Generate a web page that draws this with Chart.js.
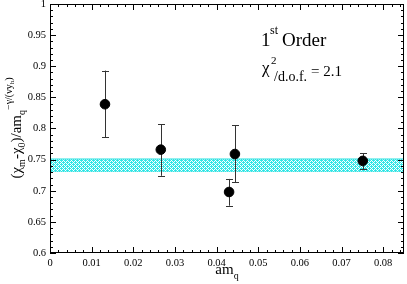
<!DOCTYPE html>
<html>
<head>
<meta charset="utf-8">
<script src="https://cdn.jsdelivr.net/npm/chart.js@4.4.1/dist/chart.umd.min.js"></script>
<style>
  html, body { margin: 0; padding: 0; background: #fff; }
  #wrap { width: 407px; height: 284px; }
</style>
</head>
<body>
<div id="wrap"><canvas id="chiPlot"></canvas></div>
<script>
// data
var amq = [0.0132, 0.0266, 0.0430, 0.0444, 0.0751];
var chiRatio = [0.839, 0.766, 0.698, 0.759, 0.748];
var errLow = [0.786, 0.724, 0.676, 0.714, 0.735];
var errHigh = [0.893, 0.807, 0.719, 0.805, 0.760];

// fit band
var bandX = [0, 0.085];
var bandTop = [0.751, 0.751];
var bandBottom = [0.731, 0.731];

var xTicks = [0, 0.01, 0.02, 0.03, 0.04, 0.05, 0.06, 0.07, 0.08];
var yTicks = [0.6, 0.65, 0.7, 0.75, 0.8, 0.85, 0.9, 0.95, 1];

var SERIF = "'Liberation Serif', 'DejaVu Serif', serif";

// little cyan hatch for the band
var tile = document.createElement('canvas');
tile.width = 4; tile.height = 4;
var tctx = tile.getContext('2d');
tctx.fillStyle = '#ffffff';
tctx.fillRect(0, 0, 4, 4);
tctx.fillStyle = '#33e6e6';
[[0,0],[2,0],[1,1],[3,1],[0,2],[2,2],[1,3],[3,3],[1,0],[3,2]].forEach(function (p) {
  tctx.fillRect(p[0], p[1], 1, 1);
});
var hatch = tctx.createPattern(tile, 'repeat');

function pts(xs, ys) {
  return xs.map(function (x, i) { return { x: x, y: ys[i] }; });
}

// draw a run of text pieces with different sizes / offsets, centred on x
function drawRich(ctx, parts, x, y) {
  var total = 0;
  parts.forEach(function (p) {
    ctx.font = p.size + 'px ' + SERIF;
    p.w = ctx.measureText(p.t).width;
    total += p.w;
  });
  var cx = x - total / 2;
  ctx.textAlign = 'left';
  ctx.textBaseline = 'alphabetic';
  parts.forEach(function (p) {
    ctx.font = p.size + 'px ' + SERIF;
    ctx.fillText(p.t, cx, y + (p.dy || 0));
    cx += p.w;
  });
}

function noPad(s) {
  s.paddingLeft = 0; s.paddingRight = 0;
  s.paddingTop = 0; s.paddingBottom = 0;
}

var framePlugin = {
  id: 'frame',
  beforeDatasetDraw: function (chart, args) {
    if (args.index !== 0) return;
    var ctx = chart.ctx, xs = chart.scales.x, ys = chart.scales.y;
    ctx.save();
    ctx.strokeStyle = '#333';
    ctx.lineWidth = 1;
    for (var i = 0; i < amq.length; i++) {
      var px = Math.round(xs.getPixelForValue(amq[i])) + 0.5;
      var top = ys.getPixelForValue(errHigh[i]);
      var bot = ys.getPixelForValue(errLow[i]);
      ctx.beginPath();
      ctx.moveTo(px, top); ctx.lineTo(px, bot);
      ctx.moveTo(px - 3.5, Math.round(top) + 0.5); ctx.lineTo(px + 3.5, Math.round(top) + 0.5);
      ctx.moveTo(px - 3.5, Math.round(bot) + 0.5); ctx.lineTo(px + 3.5, Math.round(bot) + 0.5);
      ctx.stroke();
    }
    ctx.restore();
  },
  afterDraw: function (chart) {
    var ctx = chart.ctx, a = chart.chartArea;
    var xs = chart.scales.x, ys = chart.scales.y;
    ctx.save();
    ctx.strokeStyle = '#000';
    ctx.lineWidth = 1;
    ctx.strokeRect(a.left + 0.5, a.top + 0.5, a.right - a.left - 1, a.bottom - a.top - 1);

    ctx.beginPath();
    // x ticks, bottom and top, pointing inward
    for (var k = 0; k <= 42; k++) {
      var v = k * 0.002;
      var px = Math.round(xs.getPixelForValue(v)) + 0.5;
      var len = (k % 5 === 0) ? 6 : 3;
      ctx.moveTo(px, a.bottom); ctx.lineTo(px, a.bottom - len);
      ctx.moveTo(px, a.top); ctx.lineTo(px, a.top + len);
    }
    // y ticks, left and right
    for (var j = 0; j <= 40; j++) {
      var w = 0.6 + j * 0.01;
      var py = Math.round(ys.getPixelForValue(w)) + 0.5;
      var ln = (j % 5 === 0) ? 6 : 3;
      ctx.moveTo(a.left, py); ctx.lineTo(a.left + ln, py);
      ctx.moveTo(a.right, py); ctx.lineTo(a.right - ln, py);
    }
    ctx.stroke();

    ctx.fillStyle = '#000';
    // x axis title
    drawRich(ctx, [
      { t: 'am', size: 15 },
      { t: 'q', size: 10, dy: 5 }
    ], (a.left + a.right) / 2, 274);

    // y axis title, rotated
    ctx.save();
    ctx.translate(21, 128);
    ctx.rotate(-Math.PI / 2);
    drawRich(ctx, [
      { t: '(\u03c7', size: 15 },
      { t: 'm', size: 10, dy: 4 },
      { t: '-\u03c7', size: 15 },
      { t: '0', size: 10, dy: 4 },
      { t: ')/am', size: 15 },
      { t: 'q', size: 10, dy: 4 },
      { t: '\u2212\u03b3/(\u03bdy', size: 10, dy: -9 },
      { t: 'h', size: 7, dy: -7 },
      { t: ')', size: 10, dy: -9 }
    ], 0, 0);
    ctx.restore();

    // annotations
    ctx.textAlign = 'left';
    ctx.textBaseline = 'alphabetic';
    ctx.font = '19px ' + SERIF;
    ctx.fillText('1', 261, 46);
    ctx.font = '12px ' + SERIF;
    ctx.fillText('st', 270, 34);
    ctx.font = '19px ' + SERIF;
    ctx.fillText('Order', 282, 46);

    ctx.font = '17px ' + SERIF;
    ctx.fillText('\u03c7', 262, 73);
    ctx.font = '11px ' + SERIF;
    ctx.fillText('2', 271, 64);
    ctx.font = '14px ' + SERIF;
    ctx.fillText('/d.o.f.', 274, 81);
    ctx.font = '15px ' + SERIF;
    ctx.fillText('= 2.1', 311, 76);
    ctx.restore();
  }
};

var ctx = document.getElementById('chiPlot').getContext('2d');
var chart = new Chart(ctx, {
  type: 'scatter',
  data: {
    datasets: [{
      label: 'data',
      data: pts(amq, chiRatio),
      backgroundColor: '#000',
      borderColor: '#000',
      pointRadius: 4.8,
      pointHoverRadius: 4.8
    }, {
      label: 'band top',
      type: 'line',
      data: pts(bandX, bandTop),
      borderColor: '#22e0e0',
      borderWidth: 1,
      pointRadius: 0,
      fill: '+1',
      backgroundColor: hatch
    }, {
      label: 'band bottom',
      type: 'line',
      data: pts(bandX, bandBottom),
      borderColor: '#22e0e0',
      borderWidth: 1,
      pointRadius: 0,
      fill: false
    }]
  },
  options: {
    responsive: true,
    maintainAspectRatio: false,
    animation: false,
    layout: { autoPadding: false, padding: { left: 0, top: 4, right: 3, bottom: 0 } },
    plugins: {
      legend: { display: false },
      tooltip: { enabled: false }
    },
    scales: {
      x: {
        type: 'linear',
        min: 0,
        max: 0.085,
        grid: { display: false, drawTicks: false },
        border: { display: false },
        afterBuildTicks: function (s) { s.ticks = xTicks.map(function (v) { return { value: v }; }); },
        afterFit: function (s) { s.height = 31; noPad(s); },
        ticks: {
          padding: 4,
          maxRotation: 0,
          color: '#000',
          font: { family: SERIF, size: 10.5 },
          callback: function (v) { return String(+v.toFixed(3)); }
        }
      },
      y: {
        min: 0.6,
        max: 1,
        grid: { display: false, drawTicks: false },
        border: { display: false },
        afterBuildTicks: function (s) { s.ticks = yTicks.map(function (v) { return { value: v }; }); },
        afterFit: function (s) { s.width = 50; noPad(s); },
        ticks: {
          padding: 4,
          color: '#000',
          font: { family: SERIF, size: 10.5 },
          callback: function (v) { return String(+v.toFixed(3)); }
        }
      }
    }
  },
  plugins: [framePlugin]
});
</script>
</body>
</html>
